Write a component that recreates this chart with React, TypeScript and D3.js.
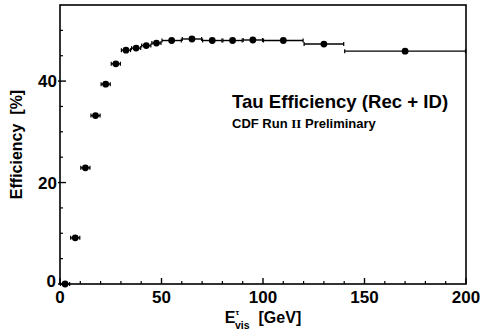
import React from "react";
import * as d3 from "d3";

const xCenters = [2.5, 7.5, 12.5, 17.5, 22.5, 27.5, 32.5, 37.5, 42.5, 47.5, 55, 65, 75, 85, 95, 110, 130, 170];
const xLow = [0, 5, 10, 15, 20, 25, 30, 35, 40, 45, 50, 60, 70, 80, 90, 100, 120, 140];
const xHigh = [5, 10, 15, 20, 25, 30, 35, 40, 45, 50, 60, 70, 80, 90, 100, 120, 140, 200];
const efficiency = [0, 9.1, 22.9, 33.2, 39.4, 43.4, 46.1, 46.5, 47.0, 47.5, 48.0, 48.3, 48.0, 48.0, 48.1, 48.0, 47.3, 45.9];

const xMajorTicks = [0, 50, 100, 150, 200];
const yMajorTicks = [0, 20, 40];

const W = 485;
const H = 334;
const L = 60, R = 466, T = 5, B = 284;
const FONT = "'Liberation Sans', Arial, Helvetica, sans-serif";

export default function App() {
  const x = d3.scaleLinear().domain([0, 200]).range([L, R]);
  const y = d3.scaleLinear().domain([0, 55]).range([B, T]);
  const xMinor = d3.range(0, 201, 10).filter((v) => v % 50 !== 0);
  const yMinor = d3.range(0, 55, 5).filter((v) => v % 20 !== 0);

  const points = xCenters.map((c, i) => ({ c, lo: xLow[i], hi: xHigh[i], v: efficiency[i] }));

  return (
    <svg width={W} height={H} style={{ position: "absolute", left: 0, top: 0, background: "#fff" }} fontFamily={FONT}>
      <rect x={0} y={0} width={W} height={H} fill="#fff" />
      {/* frame */}
      <rect x={L} y={T} width={R - L} height={B - T} fill="none" stroke="#000" strokeWidth={1.6} />
      {/* x ticks */}
      {xMajorTicks.map((t) => (
        <g key={"xm" + t}>
          <line x1={x(t)} x2={x(t)} y1={B} y2={B - 6} stroke="#000" strokeWidth={1.4} />
          <text x={x(t)} y={303} textAnchor="middle" fontSize={17} fontWeight="bold">{t}</text>
        </g>
      ))}
      {xMinor.map((t) => (
        <line key={"xn" + t} x1={x(t)} x2={x(t)} y1={B} y2={B - 3} stroke="#000" strokeWidth={1.2} />
      ))}
      {/* y ticks */}
      {yMajorTicks.map((t) => (
        <g key={"ym" + t}>
          <line x1={L - 2} x2={L + 6} y1={y(t)} y2={y(t)} stroke="#000" strokeWidth={1.4} />
          <text x={t === 0 ? 56 : 57} y={t === 0 ? y(t) + 3 : y(t) + 6} textAnchor="end" fontSize={17} fontWeight="bold">{t}</text>
        </g>
      ))}
      {yMinor.map((t) => (
        <line key={"yn" + t} x1={L} x2={L + 3} y1={y(t)} y2={y(t)} stroke="#000" strokeWidth={1.2} />
      ))}
      {/* data */}
      {points.map((p, i) => (
        <g key={"p" + i}>
          <line x1={x(p.lo) + 0.5} x2={x(p.hi) - 0.5} y1={y(p.v)} y2={y(p.v)} stroke="#000" strokeWidth={1.4} />
          <line x1={x(p.lo) + 0.5} x2={x(p.lo) + 0.5} y1={y(p.v) - 2} y2={y(p.v) + 2} stroke="#000" strokeWidth={1.2} />
          <line x1={x(p.hi) - 0.5} x2={x(p.hi) - 0.5} y1={y(p.v) - 2} y2={y(p.v) + 2} stroke="#000" strokeWidth={1.2} />
          <circle cx={x(p.c)} cy={y(p.v)} r={3.4} fill="#000" />
        </g>
      ))}
      {/* in-plot text */}
      <text x={232} y={107.5} fontSize={18.6} fontWeight="bold">Tau Efficiency (Rec + ID)</text>
      <text x={232} y={128} fontSize={13} fontWeight="bold">
        CDF Run <tspan fontFamily="'Liberation Serif', 'DejaVu Serif', serif">II</tspan> Preliminary
      </text>
      {/* y axis title */}
      <text transform={`translate(22, ${(T + B) / 2}) rotate(-90)`} textAnchor="middle" fontSize={16} fontWeight="bold" xmlSpace="preserve">
        {"Efficiency  [%]"}
      </text>
      {/* x axis title */}
      <text x={(L + R) / 2} y={323} textAnchor="middle" fontSize={16} fontWeight="bold" xmlSpace="preserve">
        E<tspan fontSize={8} dy={-8}>τ</tspan><tspan fontSize={10.5} dx={-4} dy={14}>vis</tspan><tspan dy={-6}>{"  [GeV]"}</tspan>
      </text>
    </svg>
  );
}
